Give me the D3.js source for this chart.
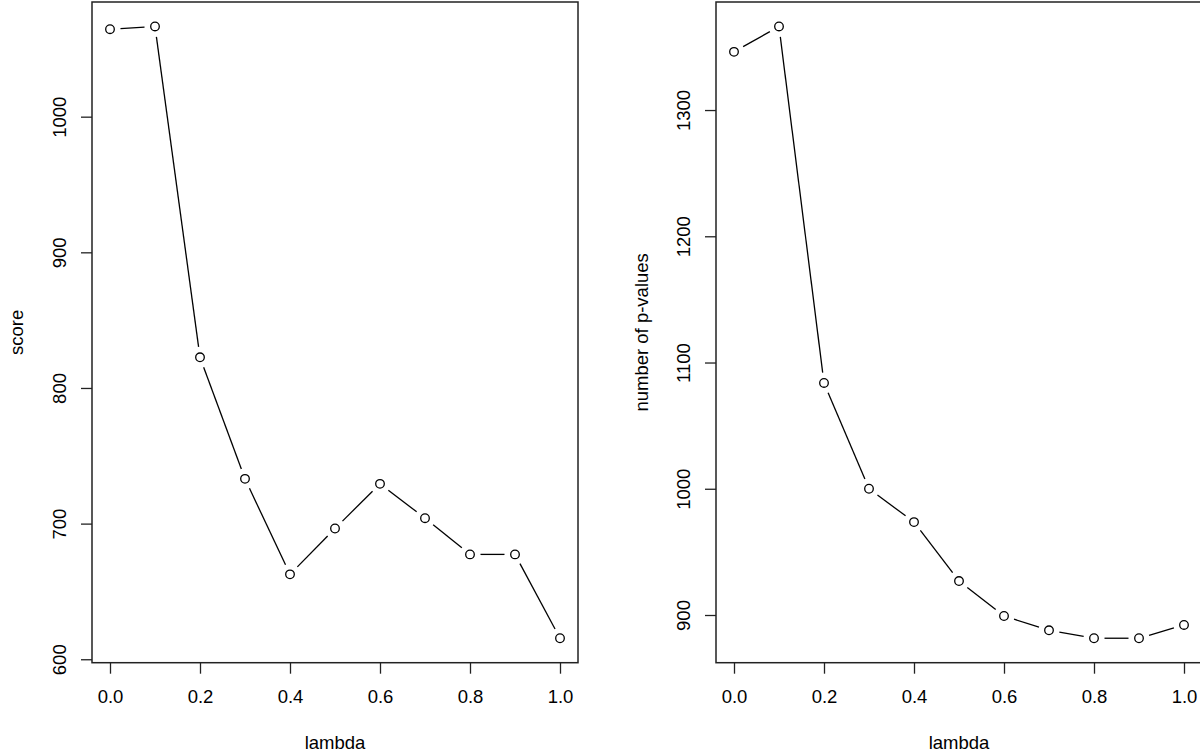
<!DOCTYPE html>
<html>
<head>
<meta charset="utf-8">
<script src="https://cdn.jsdelivr.net/npm/d3@7"></script>
<style>
  body { margin: 0; background: #fff; }
  svg { display: block; font-family: "Liberation Sans", Arial, Helvetica, sans-serif; }
</style>
</head>
<body>
<svg width="1200" height="756"></svg>
<script>
// lambda values shared by both panels
const lambda = [0.0, 0.1, 0.2, 0.3, 0.4, 0.5, 0.6, 0.7, 0.8, 0.9, 1.0];

// left panel: score
const score = [1064.5, 1066.5, 822.6, 733.0, 662.6, 696.4, 729.3, 704.0, 677.3, 677.3, 615.5];
const scoreTicks = [600, 700, 800, 900, 1000];

// right panel: number of p-values
const pvalCount = [1346.1, 1366.2, 1083.8, 1000.0, 973.6, 926.9, 899.2, 887.9, 881.6, 881.6, 892.1];
const pvalTicks = [900, 1000, 1100, 1200, 1300];

const xTicks = [0.0, 0.2, 0.4, 0.6, 0.8, 1.0];

const FS = 18.5;
const svg = d3.select("svg");

// R style: 4% padding on each side of the data range
function padded(vals) {
  const [lo, hi] = d3.extent(vals);
  const d = (hi - lo) * 0.04;
  return [lo - d, hi + d];
}

function drawPanel(left, values, yTicks, yLabel) {
  const top = 2, width = 486, height = 660.7;
  const g = svg.append("g").attr("transform", `translate(${left},${top})`);

  const x = d3.scaleLinear().domain(padded(lambda)).range([0, width]);
  const y = d3.scaleLinear().domain(padded(values)).range([height, 0]);

  // frame
  g.append("rect")
   .attr("width", width)
   .attr("height", height)
   .attr("fill", "none")
   .attr("stroke", "#222")
   .attr("stroke-width", 1.5);

  // x axis (below the frame, ticks pointing out)
  const xa = g.append("g")
    .attr("transform", `translate(0,${height})`)
    .call(d3.axisBottom(x).tickValues(xTicks).tickSize(11).tickFormat(d3.format(".1f")));
  xa.select(".domain").remove();
  xa.selectAll(".tick text")
    .attr("y", 697 - top - height).attr("dy", null)
    .attr("dominant-baseline", "central");

  // y axis
  const ya = g.append("g")
    .call(d3.axisLeft(y).tickValues(yTicks).tickSize(11).tickFormat(d3.format("d")));
  ya.select(".domain").remove();
  ya.selectAll(".tick text")
    .attr("x", 0).attr("dy", null)
    .attr("transform", "translate(-33,0) rotate(-90)")
    .attr("text-anchor", "middle")
    .attr("dominant-baseline", "central");

  [xa, ya].forEach(a => {
    a.attr("font-size", FS).attr("font-family", "'Liberation Sans', Arial, sans-serif");
    a.selectAll(".tick line").attr("stroke", "#222").attr("stroke-width", 1.3);
    a.selectAll(".tick text").attr("fill", "#000");
  });

  // axis titles
  g.append("text")
   .attr("x", width / 2).attr("y", 742 - top)
   .attr("text-anchor", "middle").attr("dominant-baseline", "central")
   .attr("font-size", FS).text("lambda");

  g.append("text")
   .attr("transform", `translate(${yLabel.dx},${height / 2}) rotate(-90)`)
   .attr("text-anchor", "middle").attr("dominant-baseline", "central")
   .attr("font-size", FS).text(yLabel.text);

  // type = "b": segments with a gap around each point
  const pts = lambda.map((l, i) => [x(l), y(values[i])]);
  const gap = 10.5;
  const segs = d3.pairs(pts).map(([a, b]) => {
    const dx = b[0] - a[0], dy = b[1] - a[1];
    const len = Math.hypot(dx, dy);
    const ux = dx / len, uy = dy / len;
    return [a[0] + ux * gap, a[1] + uy * gap, b[0] - ux * gap, b[1] - uy * gap, len];
  }).filter(s => s[4] > 2 * gap);

  g.selectAll("line.seg").data(segs).join("line")
   .attr("class", "seg")
   .attr("x1", d => d[0]).attr("y1", d => d[1])
   .attr("x2", d => d[2]).attr("y2", d => d[3])
   .attr("stroke", "#000").attr("stroke-width", 1.3);

  g.selectAll("circle").data(pts).join("circle")
   .attr("cx", d => d[0]).attr("cy", d => d[1])
   .attr("r", 4.3)
   .attr("fill", "none").attr("stroke", "#000").attr("stroke-width", 1.3);
}

drawPanel(92, score, scoreTicks, { text: "score", dx: -76 });
drawPanel(716, pvalCount, pvalTicks, { text: "number of p-values", dx: -75 });
</script>
</body>
</html>
